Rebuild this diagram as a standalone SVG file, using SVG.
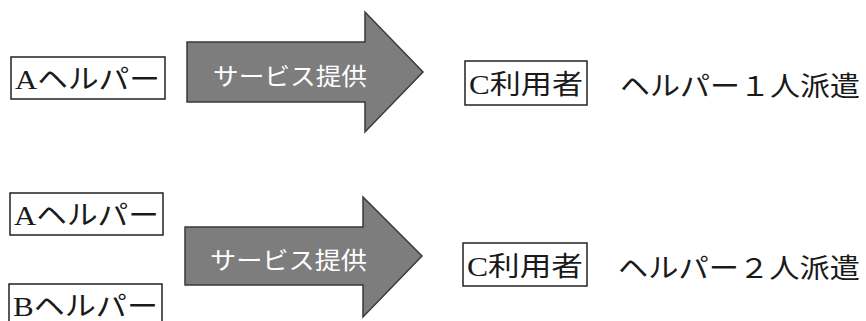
<svg xmlns="http://www.w3.org/2000/svg" width="866" height="321" viewBox="0 0 866 321">
<style>
.box{fill:#fff;stroke:#222;stroke-width:1.5}
.lbl{font-family:"Liberation Serif","Noto Sans CJK JP",serif;font-size:27px;fill:#1a1a1a}
.arr{fill:#7d7d7d;stroke:#3a3a3a;stroke-width:1.5}
.at{font-family:"Liberation Serif","Noto Sans CJK JP",serif;font-size:24px;fill:#fff}
</style>
<rect width="866" height="321" fill="#fff"/>
<g id="a1"><rect class="box" x="11" y="57" width="154" height="42"/><text class="lbl" x="15" y="89" textLength="145" lengthAdjust="spacingAndGlyphs">Aヘルパー</text></g>
<g id="arrow1"><path class="arr" d="M187,42 L365,42 L365,12 L423,72 L365,132 L365,102 L187,102 Z"/><text class="at" x="213" y="85" textLength="154" lengthAdjust="spacingAndGlyphs">サービス提供</text></g>
<g id="c1"><rect class="box" x="465" y="61" width="122" height="44"/><text class="lbl" x="469" y="94" textLength="114" lengthAdjust="spacingAndGlyphs">C利用者</text></g>
<g id="t1"><text class="lbl" x="620" y="96" textLength="240" lengthAdjust="spacingAndGlyphs">ヘルパー１人派遣</text></g>
<g id="a2"><rect class="box" x="10" y="193" width="153" height="42"/><text class="lbl" x="14" y="225" textLength="145" lengthAdjust="spacingAndGlyphs">Aヘルパー</text></g>
<g id="b2"><rect class="box" x="9" y="284" width="153" height="42"/><text class="lbl" x="13" y="316" textLength="145" lengthAdjust="spacingAndGlyphs">Bヘルパー</text></g>
<g id="arrow2"><path class="arr" d="M185,227 L363,227 L363,197 L422,256 L363,317 L363,285 L185,285 Z"/><text class="at" x="210" y="269" textLength="157" lengthAdjust="spacingAndGlyphs">サービス提供</text></g>
<g id="c2"><rect class="box" x="463" y="243" width="124" height="43"/><text class="lbl" x="467" y="276" textLength="116" lengthAdjust="spacingAndGlyphs">C利用者</text></g>
<g id="t2"><text class="lbl" x="618" y="278" textLength="242" lengthAdjust="spacingAndGlyphs">ヘルパー２人派遣</text></g>
<g id="connectors"></g>
</svg>
